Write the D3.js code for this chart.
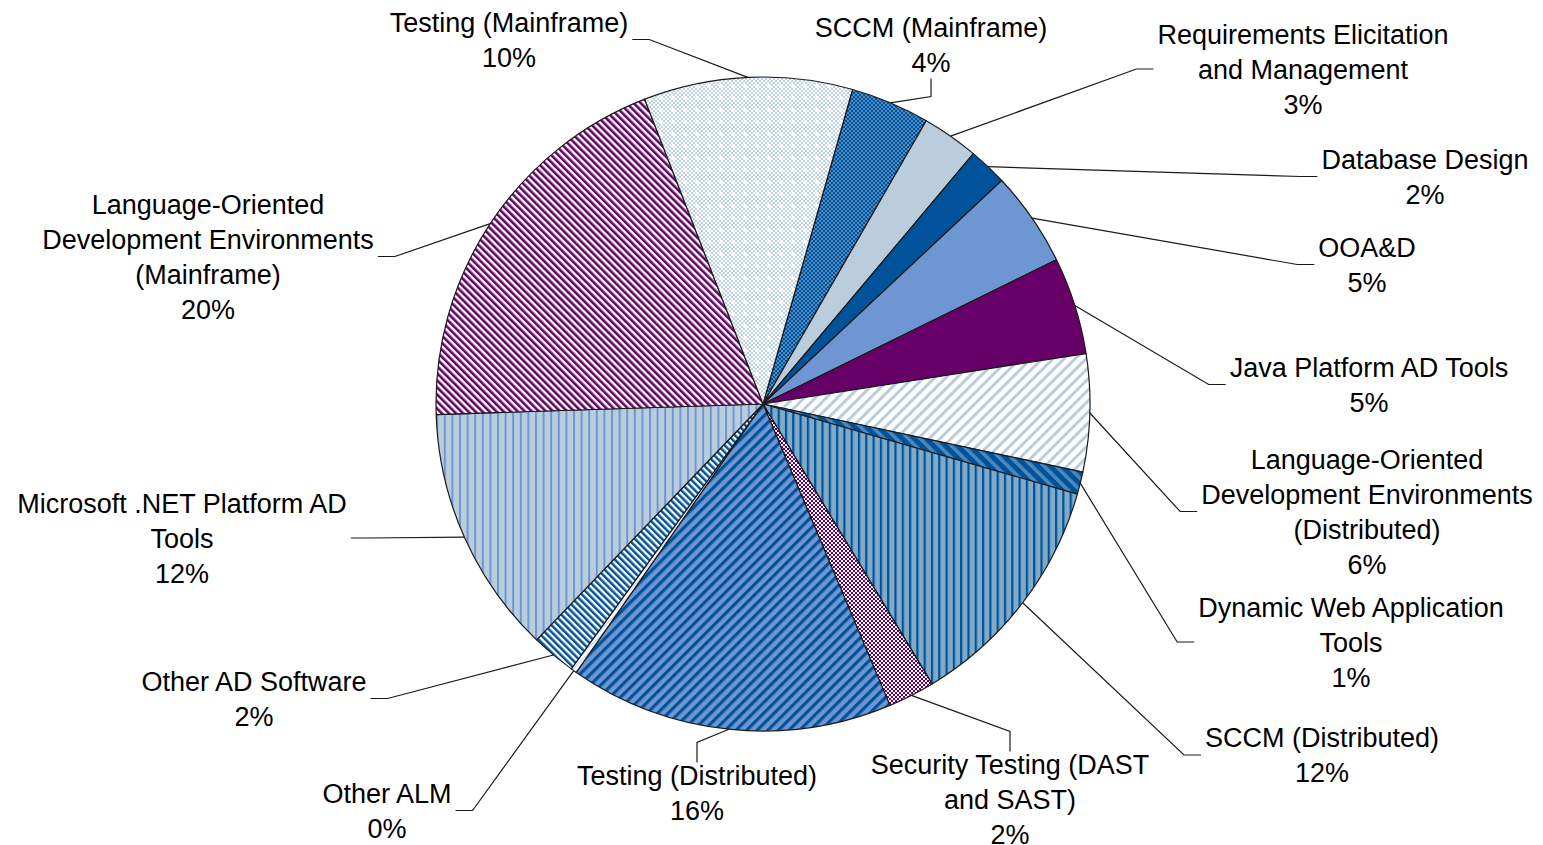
<!DOCTYPE html>
<html>
<head>
<meta charset="utf-8">
<script src="https://cdn.jsdelivr.net/npm/d3@7"></script>
<style>
  body { margin: 0; background: #fff; }
  svg { display: block; }
  text { font-family: "Liberation Sans", Arial, sans-serif; fill: #000; }
</style>
</head>
<body>
<div id="chart"></div>
<script>
// categories, clockwise starting from SCCM (Mainframe)
const categories = [
  ['SCCM (Mainframe)'],
  ['Requirements Elicitation', 'and Management'],
  ['Database Design'],
  ['OOA&D'],
  ['Java Platform AD Tools'],
  ['Language-Oriented', 'Development Environments', '(Distributed)'],
  ['Dynamic Web Application', 'Tools'],
  ['SCCM (Distributed)'],
  ['Security Testing (DAST', 'and SAST)'],
  ['Testing (Distributed)'],
  ['Other ALM'],
  ['Other AD Software'],
  ['Microsoft .NET Platform AD', 'Tools'],
  ['Language-Oriented', 'Development Environments', '(Mainframe)'],
  ['Testing (Mainframe)']
]

const shares = [3.9, 2.8, 1.9, 4.7, 4.8, 5.8, 1.1, 11.9, 2.3, 16.0, 0.3, 2.2, 12.3, 19.6, 10.3]

const fills = ['pSccmMf', 'sReq', 'sDb', 'sOoad', 'sJava', 'pLodeDist', 'pDyn', 'pSccmDist',
               'pSec', 'pTestDist', 'pOtherAlm', 'pOtherAd', 'pNet', 'pLodeMf', 'pTestMf']

// label layout: centre x, middle y, side the leader line attaches to
const labelLayout = [
  [931, 44.5, 'bottom'],
  [1303, 69, 'left'],
  [1425, 176.5, 'left'],
  [1367, 264.5, 'left'],
  [1369, 384.5, 'left'],
  [1367, 511.5, 'left'],
  [1351, 642, 'left'],
  [1322, 755, 'left'],
  [1010, 799, 'top'],
  [697, 792.5, 'top'],
  [387, 810.5, 'right'],
  [254, 698.5, 'right'],
  [182, 538, 'right'],
  [208, 256.5, 'right'],
  [509, 39.5, 'right']
]

const w = 1543
const h = 845
const cx = 763
const cy = 404
const radius = 327
const fontSize = 27
const lineH = 35

const darkBlue = '#00529b'
const midBlue = '#6e96d2'
const lightBlue = '#b9cddc'
const steel = '#7faac8'
const purple = '#660066'

const svg = d3.select('#chart')
              .append('svg')
              .attr('width', w)
              .attr('height', h)

const defs = svg.append('defs')

function stripes(id, bg, fg, size, width, angle) {
  const p = defs.append('pattern')
                .attr('id', id)
                .attr('patternUnits', 'userSpaceOnUse')
                .attr('width', size)
                .attr('height', size)
                .attr('patternTransform', `rotate(${angle})`)
  p.append('rect').attr('width', size).attr('height', size).attr('fill', bg)
  p.append('rect').attr('width', width).attr('height', size).attr('fill', fg)
}

function checker(id, bg, fg, cell) {
  const p = defs.append('pattern')
                .attr('id', id)
                .attr('patternUnits', 'userSpaceOnUse')
                .attr('width', cell * 2)
                .attr('height', cell * 2)
  p.append('rect').attr('width', cell * 2).attr('height', cell * 2).attr('fill', bg)
  p.append('rect').attr('width', cell).attr('height', cell).attr('fill', fg)
  p.append('rect').attr('x', cell).attr('y', cell).attr('width', cell).attr('height', cell).attr('fill', fg)
  return p
}

checker('pSccmMf', darkBlue, '#4f8cc4', 2)
stripes('pLodeDist', '#ffffff', lightBlue, 7.8, 3, 45)
stripes('pDyn', darkBlue, '#4b88bd', 8.5, 3.5, -45)
stripes('pSccmDist', steel, darkBlue, 7.3, 2.2, 0)
checker('pSec', '#ffffff', purple, 2)
stripes('pTestDist', midBlue, darkBlue, 7.5, 3.2, 45)
stripes('pOtherAlm', '#ffffff', '#d6e3ee', 4, 2, 45)
stripes('pOtherAd', '#ffffff', darkBlue, 4.8, 2.5, -45)
stripes('pNet', lightBlue, midBlue, 7.6, 2, 0)
stripes('pLodeMf', '#ffffff', purple, 5, 2.6, -45)

checker('pTestMf', '#ffffff', '#bcd2e4', 2)
const tm2 = defs.append('pattern')
                .attr('id', 'pTestMf2')
                .attr('patternUnits', 'userSpaceOnUse')
                .attr('width', 12)
                .attr('height', 12)
tm2.append('rect').attr('width', 12).attr('height', 12).attr('fill', 'url(#pTestMf)')
tm2.append('rect').attr('x', 5).attr('y', 4).attr('width', 2).attr('height', 4).attr('fill', '#fff')
tm2.append('rect').attr('x', 4).attr('y', 5).attr('width', 4).attr('height', 2).attr('fill', '#fff')

const solid = { sReq: lightBlue, sDb: darkBlue, sOoad: midBlue, sJava: purple }

function fillFor(key) {
  if (solid[key]) return solid[key]
  if (key === 'pTestMf') return 'url(#pTestMf2)'
  return `url(#${key})`
}

const total = d3.sum(shares)
const start = 15.9 * Math.PI / 180

const pie = d3.pie()
              .sort(null)
              .startAngle(start)
              .endAngle(start + 2 * Math.PI)

const arcs = pie(shares)

const arc = d3.arc()
              .innerRadius(0)
              .outerRadius(radius)

const g = svg.append('g')
             .attr('transform', `translate(${cx}, ${cy})`)

g.selectAll('path')
 .data(arcs)
 .enter()
 .append('path')
 .attr('d', arc)
 .attr('fill', (d, i) => fillFor(fills[i]))
 .attr('stroke', '#1a1a1a')
 .attr('stroke-width', 1.2)
 .attr('stroke-linejoin', 'round')

// labels
const labels = svg.append('g')

arcs.forEach((d, i) => {
  const [tx, ty, side] = labelLayout[i]
  const lines = categories[i].concat([`${Math.round(d.value / total * 100)}%`])
  const n = lines.length

  const t = labels.append('text')
                  .attr('text-anchor', 'middle')
                  .style('font-size', `${fontSize}px`)

  lines.forEach((line, j) => {
    t.append('tspan')
     .attr('x', tx)
     .attr('y', ty + (j - (n - 1) / 2) * lineH + 9.5)
     .text(line)
  })

  const box = t.node().getBBox()
  const mid = (d.startAngle + d.endAngle) / 2
  const ax = cx + radius * Math.sin(mid)
  const ay = cy - radius * Math.cos(mid)

  let end, elbow
  if (side === 'left') {
    end = [box.x - 4, ty]
    elbow = [end[0] - 17, ty]
  } else if (side === 'right') {
    end = [box.x + box.width + 4, ty]
    elbow = [end[0] + 17, ty]
  } else if (side === 'top') {
    end = [tx, box.y + 2]
    elbow = [tx, end[1] - 20]
  } else {
    end = [tx, box.y + box.height + 1]
    elbow = [tx, end[1] + 18]
  }

  labels.append('path')
        .attr('d', d3.line()([[ax, ay], elbow, end]))
        .attr('fill', 'none')
        .attr('stroke', '#1a1a1a')
        .attr('stroke-width', 1.2)
})
</script>
</body>
</html>
